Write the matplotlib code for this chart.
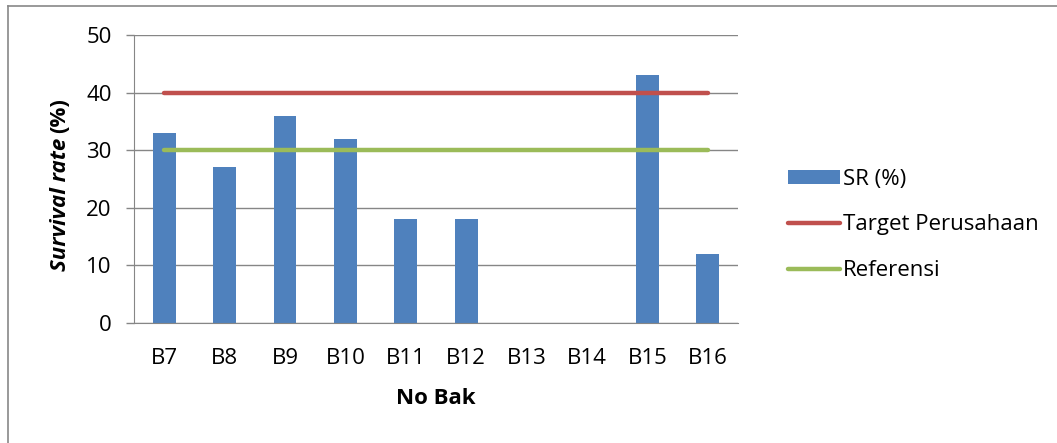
import matplotlib.pyplot as plt
import numpy as np
from matplotlib.lines import Line2D

# data
no_bak = ["B7", "B8", "B9", "B10", "B11", "B12", "B13", "B14", "B15", "B16"]
sr = [33, 27, 36, 32, 18, 18, 0, 0, 43, 12]
target = [40] * len(no_bak)
referensi = [30] * len(no_bak)

plt.rcParams['font.family'] = ['Open Sans', 'DejaVu Sans']
fs = 16

fig = plt.figure(figsize=(10.57, 4.43), dpi=100)
ax = fig.add_axes([134/1057, 1-323/443, (738-134)/1057, (323-35)/443])

x = np.arange(len(no_bak))
b = ax.bar(x, sr, width=0.38, color='#4F81BD', zorder=2, label='SR (%)')
l1, = ax.plot(x, target, color='#C0504D', lw=3.2, solid_capstyle='round', zorder=3, label='Target Perusahaan')
l2, = ax.plot(x, referensi, color='#9BBB59', lw=3.2, solid_capstyle='round', zorder=3, label='Referensi')

ax.set_xlim(-0.5, len(no_bak) - 0.5)
ax.set_ylim(0, 50)
ax.set_yticks(np.arange(0, 51, 10))
ax.set_xticks(x)
ax.set_xticklabels(no_bak)
ax.tick_params(axis='x', length=0, pad=18, labelsize=fs)
ax.tick_params(axis='y', length=6, width=1, color='#868686', pad=10, labelsize=fs)
ax.grid(axis='y', color='#868686', lw=1, zorder=1)
for s in ['top', 'right']:
    ax.spines[s].set_visible(False)
ax.spines['left'].set_color('#868686')
ax.spines['bottom'].set_color('#868686')

# axis labels
fig.text(436/1057, 1-398/443, 'No Bak', fontsize=fs, fontweight='bold', ha='center', va='center')
fig.canvas.draw()
t1 = fig.text(60/1057, 1-271/443, 'Survival rate', fontsize=fs, fontweight='bold',
              fontstyle='italic', rotation=90, ha='center', va='bottom')
bb = t1.get_window_extent(fig.canvas.get_renderer())
fig.text(60/1057, (bb.y1 + 5)/443, '(%)', fontsize=fs, fontweight='bold',
         rotation=90, ha='center', va='bottom')

ax.legend([b, l1, l2], ['SR (%)', 'Target Perusahaan', 'Referensi'],
          loc='center left', bbox_to_anchor=(777/1057, 1-225/443), bbox_transform=fig.transFigure,
          frameon=False, fontsize=fs, handlelength=2.35, handleheight=0.6, handletextpad=0.12,
          labelspacing=1.12, borderpad=0)

# outer frame (top and left only)
fig.add_artist(Line2D([8/1057, 1], [1-5.5/443, 1-5.5/443], color='#888888', lw=1.2, transform=fig.transFigure))
fig.add_artist(Line2D([8/1057, 8/1057], [0, 1-5.5/443], color='#888888', lw=1.2, transform=fig.transFigure))

fig.savefig('out.png', dpi=100)
